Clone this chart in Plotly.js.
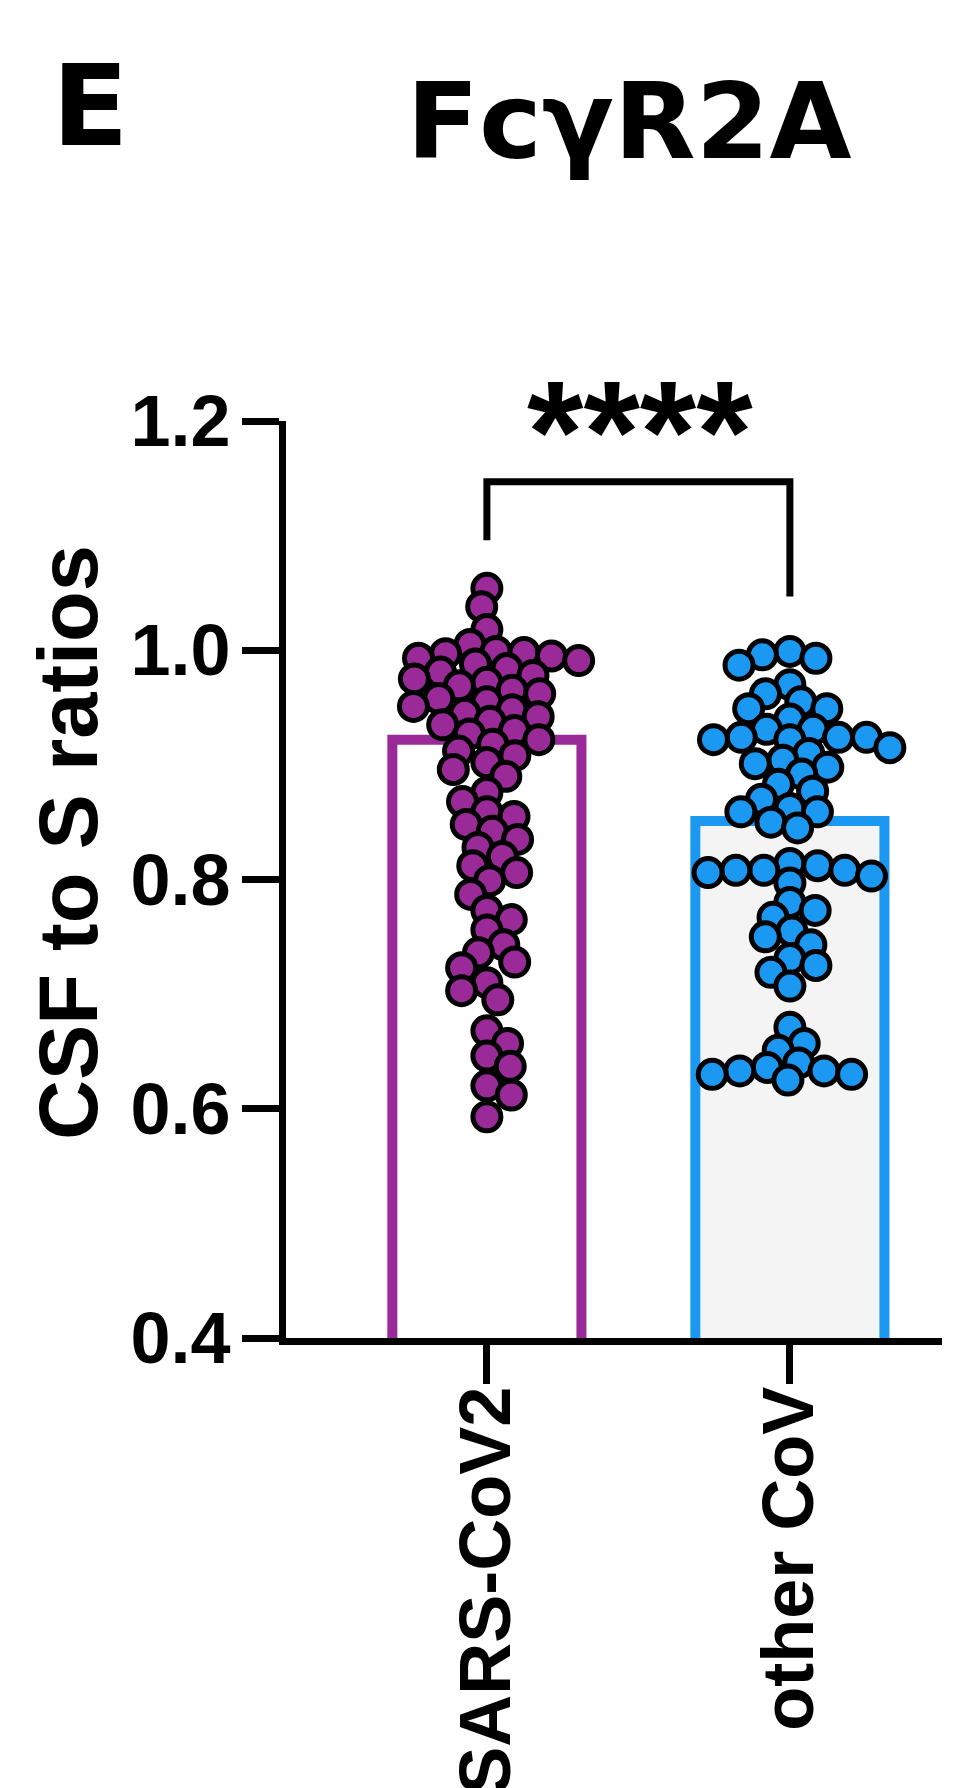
<!DOCTYPE html>
<html>
<head>
<meta charset="utf-8">
<script src="https://cdn.plot.ly/plotly-3.0.1.min.js"></script>
<style>html,body{margin:0;padding:0;background:#fff;}#chart{width:962px;height:1788px;}</style>
</head>
<body>
<div id="chart"></div>
<script>
// ---------- data ----------
const categories = ['SARS-CoV2', 'other CoV'];
const barValues = [0.922, 0.851];
const sarsCoV2 = [
  1.054, 1.038, 1.018, 1.005, 0.999, 0.998, 0.997, 0.995, 0.993, 0.991,
  0.988, 0.984, 0.981, 0.978, 0.975, 0.972, 0.969, 0.965, 0.962, 0.958,
  0.955, 0.951, 0.948, 0.945, 0.942, 0.938, 0.935, 0.930, 0.927, 0.922,
  0.918, 0.912, 0.908, 0.902, 0.896, 0.890, 0.876, 0.868, 0.859, 0.855,
  0.848, 0.842, 0.835, 0.828, 0.820, 0.812, 0.806, 0.799, 0.787, 0.773,
  0.765, 0.756, 0.743, 0.736, 0.728, 0.723, 0.710, 0.703, 0.695, 0.668,
  0.657, 0.646, 0.637, 0.620, 0.612, 0.593
];
const otherCoV = [
  0.999, 0.996, 0.993, 0.987, 0.970, 0.962, 0.955, 0.949, 0.949, 0.940,
  0.931, 0.931, 0.924, 0.924, 0.924, 0.922, 0.922, 0.915, 0.910, 0.904,
  0.901, 0.898, 0.892, 0.883, 0.877, 0.870, 0.862, 0.859, 0.859, 0.850,
  0.845, 0.814, 0.812, 0.808, 0.808, 0.808, 0.806, 0.803, 0.797, 0.780,
  0.773, 0.767, 0.755, 0.750, 0.743, 0.731, 0.725, 0.719, 0.707, 0.671,
  0.657, 0.651, 0.640, 0.636, 0.633, 0.633, 0.630, 0.630, 0.625
];
const yTicks = [0.4, 0.6, 0.8, 1.0, 1.2];
const yTickLabels = ['0.4', '0.6', '0.8', '1.0', '1.2'];
const panelLetter = 'E';
const chartTitle = 'FcγR2A';
const yTitle = 'CSF to S ratios';
const significance = '****';

// ---------- layout constants ----------
const W = 962, H = 1788;
const M = {l: 286, r: 20, t: 421, b: 450};
const yRange = [0.4, 1.2];
const xRange = [-0.663, 1.502];
const plotW = W - M.l - M.r, plotH = H - M.t - M.b;
const yPx = plotH / (yRange[1] - yRange[0]);
const xPx = plotW / (xRange[1] - xRange[0]);
const purple = '#9a2a98';
const blue = '#1a98f2';
const FONT = 'Liberation Sans, Arial, Helvetica, sans-serif';
const WIDEFONT = 'DejaVu Sans, Liberation Sans, Arial, sans-serif';
const px2x = px => (px - M.l) / plotW;
const px2y = py => (H - M.b - py) / plotH;

// beeswarm: each point goes as close to the centre as the (vertically relaxed) overlap rule allows
function swarm(vals, minD, vk) {
  const order = vals.map((v, i) => i).sort((a, b) => vals[b] - vals[a]);
  const placed = [];
  const off = new Array(vals.length);
  let flip = 1;
  for (const i of order) {
    const y = vals[i] * yPx * vk;
    const near = placed.filter(p => Math.abs(p.y - y) < minD);
    const cands = [0];
    near.forEach(p => {
      const dx = Math.sqrt(minD * minD - (p.y - y) * (p.y - y));
      cands.push(p.x + dx, p.x - dx);
    });
    cands.sort((a, b) => (Math.abs(a) - Math.abs(b)) || (flip * (b - a)));
    let x = 0;
    for (const c of cands) {
      if (near.every(p => (p.x - c) ** 2 + (p.y - y) ** 2 >= minD * minD - 1e-6)) { x = c; break; }
    }
    flip = -flip;
    placed.push({x, y});
    off[i] = x / xPx;
  }
  return off;
}
const minD = 28, vk = 1.5;
const sarsX = swarm(sarsCoV2, minD, vk).map(o => 0 + o);
const otherX = swarm(otherCoV, minD, vk).map(o => 1 + o);

const traces = [
  {
    type: 'bar', x: [0, 1], y: barValues, width: [0.624, 0.624],
    marker: {color: ['#ffffff', '#f4f4f4'], line: {color: [purple, blue], width: 10}},
    hoverinfo: 'skip', showlegend: false
  },
  {
    type: 'scatter', mode: 'markers', x: sarsX, y: sarsCoV2, name: categories[0],
    marker: {size: 28, color: purple, line: {color: '#000', width: 5}},
    cliponaxis: false, showlegend: false
  },
  {
    type: 'scatter', mode: 'markers', x: otherX, y: otherCoV, name: categories[1],
    marker: {size: 28, color: blue, line: {color: '#000', width: 5}},
    cliponaxis: false, showlegend: false
  }
];

const layout = {
  width: W, height: H,
  margin: M,
  paper_bgcolor: '#fff', plot_bgcolor: '#fff',
  showlegend: false,
  title: {
    text: chartTitle, xref: 'container', yref: 'container',
    x: 629 / W, xanchor: 'center', y: 1 - 84 / H, yanchor: 'top',
    font: {family: WIDEFONT, size: 106, color: '#000', weight: 700}
  },
  xaxis: {
    range: xRange, tickvals: [0, 1], ticktext: categories, tickangle: -90,
    showline: true, linecolor: '#000', linewidth: 7,
    ticks: 'outside', ticklen: 39, tickwidth: 7, tickcolor: '#000',
    showgrid: false, zeroline: false, ticklabelstandoff: -26,
    tickfont: {family: FONT, size: 72, color: '#000', weight: 700}
  },
  yaxis: {
    range: yRange, tickvals: yTicks, ticktext: yTickLabels,
    showline: true, linecolor: '#000', linewidth: 7,
    ticks: 'outside', ticklen: 37, tickwidth: 7, tickcolor: '#000',
    showgrid: false, zeroline: false, ticklabelstandoff: -3,
    tickfont: {family: FONT, size: 72, color: '#000', weight: 700}
  },
  shapes: [{
    type: 'path', xref: 'x', yref: 'y',
    path: 'M 0,1.096 L 0,1.147 L 1,1.147 L 1,1.047',
    line: {color: '#000', width: 7}
  }],
  annotations: [
    {text: panelLetter, xref: 'paper', yref: 'paper', x: px2x(90), y: px2y(106),
     xanchor: 'center', yanchor: 'middle', showarrow: false,
     font: {family: WIDEFONT, size: 112, color: '#000', weight: 700}},
    {text: yTitle, xref: 'paper', yref: 'paper', x: px2x(68), y: px2y(843), textangle: -90,
     xanchor: 'center', yanchor: 'middle', showarrow: false,
     font: {family: FONT, size: 83, color: '#000', weight: 700}},
    {text: significance, xref: 'paper', yref: 'paper', x: px2x(640), y: px2y(432),
     xanchor: 'center', yanchor: 'middle', showarrow: false,
     font: {family: FONT, size: 145, color: '#000', weight: 700}}
  ]
};

Plotly.newPlot('chart', traces, layout, {staticPlot: true, displayModeBar: false});
</script>
</body>
</html>
